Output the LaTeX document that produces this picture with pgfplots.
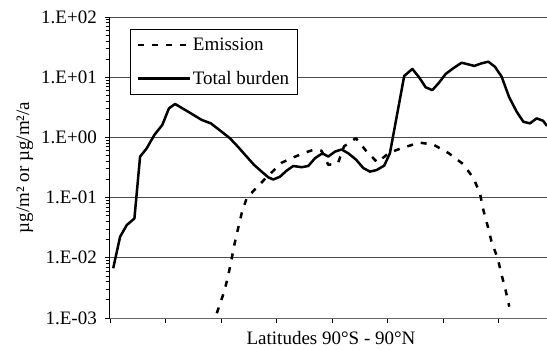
\documentclass[border=0pt]{standalone}
\usepackage{fontspec}
\setmainfont{Liberation Serif}
\usepackage{pgfplots}
\pgfplotsset{compat=1.18}
\begin{document}
\begin{tikzpicture}[font=\fontsize{19bp}{22bp}\selectfont]
\path[use as bounding box] (-110bp,-32bp) rectangle (437bp,318bp);
\begin{axis}[
 at={(0,0)}, anchor=south west,
 scale only axis, width=437bp, height=301bp,
 ymode=log, ymin=1e-3, ymax=1e2,
 xmin=-90, xmax=87.2,
 xtick={-90,-67.5,-45,-22.5,0,22.5,45,67.5}, xticklabels={},
 ytick={1e-3,1e-2,1e-1,1,10,100},
 yticklabels={1.E-03,1.E-02,1.E-01,1.E+00,1.E+01,1.E+02},
 axis x line*=bottom, axis y line*=left, axis line style={-},
 x axis line style={black!60, line width=1bp},
 y axis line style={black, line width=1bp},
 tick align=outside, major tick length=5bp, minor tick length=4bp,
 every tick/.style={black, line width=0.8bp},
 ymajorgrids, major grid style={black!70, line width=0.8bp},
 yticklabel style={anchor=east, inner sep=0pt, xshift=-8bp},
 xlabel={Latitudes 90°S - 90°N},
 xlabel style={at={([yshift=-20bp,xshift=2.5bp]axis description cs:0.5,0)}, anchor=center},
 ylabel={µg/m² or µg/m²/a},
 ylabel style={at={([xshift=-85bp]axis description cs:0,0.5)}, anchor=center, rotate=0},
 legend style={at={(axis description cs:0.0458,0.960)}, anchor=north west, draw=black, line width=0.8bp,
   inner xsep=6bp, inner ysep=6.5bp, row sep=15bp, nodes={inner sep=2bp}},
 legend cell align=left,
 legend image code/.code={\draw[#1] (0bp,0bp) -- (52bp,0bp);},
]
\addplot[black, line width=2.5bp, dash pattern=on 6bp off 8bp, line join=round] coordinates {
(-46.7,0.0012) (-43.7,0.00274) (-42.3,0.0046) (-40.9,0.0086) (-39.6,0.0163) (-38.2,0.029)
(-36.6,0.055) (-34.6,0.097) (-30.5,0.148) (-25.9,0.23) (-20.4,0.38) (-15.4,0.47)
(-11.4,0.55) (-7.6,0.62) (-4.2,0.6) (-1.5,0.35) (2.4,0.37) (4.9,0.71) (9.7,0.97)
(14.1,0.58) (18.4,0.385) (23.3,0.56) (28.9,0.675) (35.4,0.82) (41.1,0.76) (47.4,0.545)
(53.2,0.36) (57.4,0.21) (60.0,0.118) (61.4,0.062) (63.2,0.033) (64.7,0.0185)
(67.2,0.0098) (68.8,0.0052) (70.4,0.0029) (71.9,0.00154)
};
\addlegendentry{Emission}
\addplot[black, line width=2.5bp, line join=round] coordinates {
(-88.7,0.0067) (-85.9,0.0224) (-83.2,0.035) (-80.1,0.045) (-77.8,0.48) (-75.1,0.66)
(-72.0,1.10) (-68.8,1.61) (-66.1,3.04) (-63.6,3.59) (-58.3,2.67) (-52.8,1.95)
(-49.1,1.71) (-44.7,1.24) (-41.4,0.97) (-38.0,0.69) (-34.6,0.48) (-31.6,0.35)
(-28.5,0.27) (-25.8,0.217) (-23.8,0.20) (-21.1,0.222) (-18.4,0.28) (-15.7,0.335)
(-12.3,0.32) (-9.6,0.335) (-6.9,0.45) (-3.9,0.545) (-1.5,0.48) (1.2,0.58)
(3.9,0.63) (6.6,0.545) (9.7,0.43) (12.7,0.31) (15.4,0.27) (18.1,0.287)
(21.2,0.34) (23.5,0.545) (29.3,10.5) (32.6,13.7) (35.3,10.0) (38.0,6.8)
(40.7,6.1) (43.4,8.1) (46.1,11.3) (49.2,14.1) (52.6,17.4) (57.7,15.4)
(60.7,17.0) (63.4,18.1) (66.1,14.9) (68.8,10.2) (71.8,4.7) (74.9,2.67)
(77.6,1.82) (80.3,1.71) (83.0,2.07) (85.6,1.89) (87.2,1.55)
};
\addlegendentry{Total burden}
\end{axis}
\end{tikzpicture}
\end{document}
